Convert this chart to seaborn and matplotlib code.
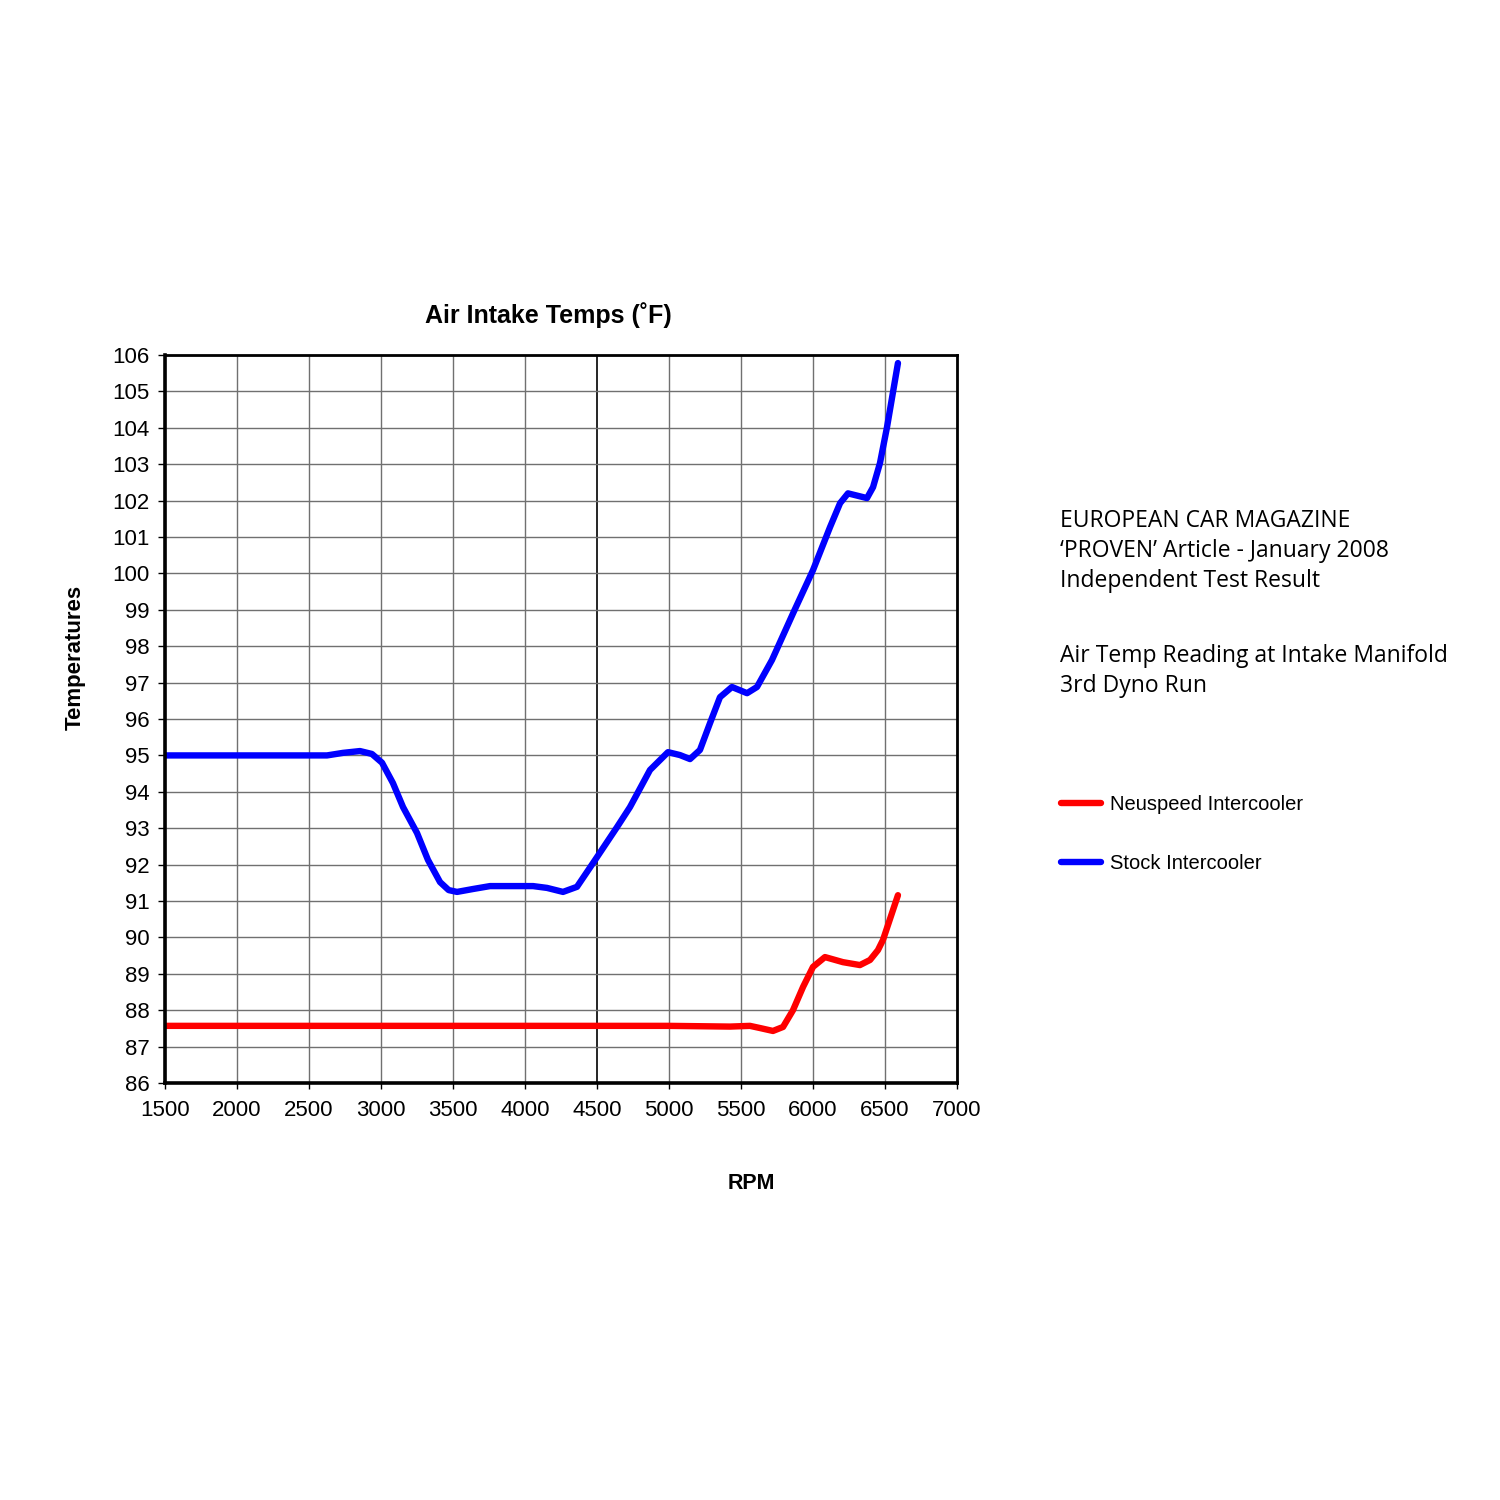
import matplotlib
matplotlib.use("Agg")
import matplotlib.pyplot as plt
import seaborn as sns
import pandas as pd

# Data
stock_rpm = [1500, 2000, 2437, 2625, 2736, 2854, 2937, 3007, 3083, 3153, 3250, 3326, 3410,
             3470, 3528, 3639, 3757, 4056, 4153, 4264, 4361, 4472, 4639, 4729, 4868, 4993,
             5076, 5146, 5215, 5285, 5354, 5437, 5542, 5611, 5715, 5861, 6000, 6118, 6188,
             6243, 6375, 6417, 6465, 6514, 6590]
stock_temp = [95.0, 95.0, 95.0, 95.0, 95.07, 95.12, 95.04, 94.8, 94.24, 93.58, 92.87, 92.13, 91.52,
              91.3, 91.25, 91.33, 91.41, 91.41, 91.36, 91.25, 91.39, 92.04, 93.03, 93.58, 94.6, 95.09,
              95.01, 94.9, 95.15, 95.89, 96.6, 96.88, 96.71, 96.88, 97.62, 98.9, 100.09, 101.27, 101.93,
              102.2, 102.07, 102.37, 103.03, 104.02, 105.78]

neu_rpm = [1500, 2000, 2500, 3000, 3500, 4000, 4500, 5000, 5424, 5562, 5632, 5722, 5792,
           5861, 5931, 6000, 6083, 6208, 6326, 6396, 6451, 6486, 6590]
neu_temp = [87.57, 87.57, 87.57, 87.57, 87.57, 87.57, 87.57, 87.57, 87.55, 87.57, 87.51, 87.43, 87.54,
            88.0, 88.64, 89.19, 89.46, 89.32, 89.24, 89.38, 89.65, 89.93, 91.16]

series_names = ["Neuspeed Intercooler", "Stock Intercooler"]
x_ticks = [1500, 2000, 2500, 3000, 3500, 4000, 4500, 5000, 5500, 6000, 6500, 7000]
y_ticks = list(range(86, 107))

df = pd.concat([
    pd.DataFrame({"RPM": neu_rpm, "Temp": neu_temp, "Series": series_names[0]}),
    pd.DataFrame({"RPM": stock_rpm, "Temp": stock_temp, "Series": series_names[1]}),
], ignore_index=True)

sns.set_theme(style="white")
plt.rcParams["font.family"] = ["Liberation Sans", "DejaVu Sans"]
plt.rcParams["text.color"] = "black"
plt.rcParams["axes.labelcolor"] = "black"
plt.rcParams["xtick.color"] = "black"
plt.rcParams["ytick.color"] = "black"

fig = plt.figure(figsize=(15, 15), dpi=100)
ax = fig.add_axes([0.11, 0.278, 0.528, 0.4853])

sns.lineplot(data=df, x="RPM", y="Temp", hue="Series", hue_order=series_names,
             palette={series_names[0]: "#ff0000", series_names[1]: "#0000ff"},
             linewidth=4.6, ax=ax, sort=False, estimator=None,
             solid_capstyle="round", solid_joinstyle="round")

ax.set_xlim(1500, 7000)
ax.set_ylim(86, 106)
ax.set_xticks(x_ticks)
ax.set_yticks(y_ticks)
ax.tick_params(axis="y", labelsize=16, colors="black", length=5, width=1, direction="out",
               left=True, pad=6)
ax.tick_params(axis="x", labelsize=16, colors="black", length=4, width=1, direction="out",
               bottom=True, pad=8)
ax.grid(True, color="#707070", linewidth=1.0)
for gl, t in zip(ax.get_xgridlines(), x_ticks):
    if t == 4500:
        gl.set_color("black")
        gl.set_linewidth(1.2)
ax.set_axisbelow(True)

for side in ["left", "bottom"]:
    ax.spines[side].set_color("black")
    ax.spines[side].set_linewidth(2.6)
for side in ["top", "right"]:
    ax.spines[side].set_color("black")
    ax.spines[side].set_linewidth(2.0)

ax.set_xlabel("")
ax.set_ylabel("")
fig.text(0.3653, 0.79, "Air Intake Temps (˚F)", fontsize=18, fontweight="bold",
         ha="center", va="center")

fig.text(0.05, 0.562, "Temperatures", rotation=90, fontsize=16, fontweight="bold",
         ha="center", va="center")
fig.text(0.5007, 0.2113, "RPM", fontsize=15.5, fontweight="bold", ha="center", va="center")

side_font = ["Open Sans", "DejaVu Sans"]
fig.text(0.7067, 0.6327, "EUROPEAN CAR MAGAZINE\n\u2018PROVEN\u2019 Article - January 2008\nIndependent Test Result",
         fontsize=16.5, family=side_font, ha="left", va="center", linespacing=1.35)
fig.text(0.7067, 0.5527, "Air Temp Reading at Intake Manifold\n3rd Dyno Run",
         fontsize=16.5, family=side_font, ha="left", va="center", linespacing=1.35)

leg = ax.legend(title=None, loc="upper left", bbox_to_anchor=(0.695, 0.482),
                bbox_transform=fig.transFigure, frameon=False, fontsize=14.5,
                handlelength=2.0, handletextpad=0.45, labelspacing=2.0)
for line in leg.get_lines():
    line.set_linewidth(4.6)
    line.set_solid_capstyle("round")

fig.savefig("out.png", dpi=100, facecolor="white")
